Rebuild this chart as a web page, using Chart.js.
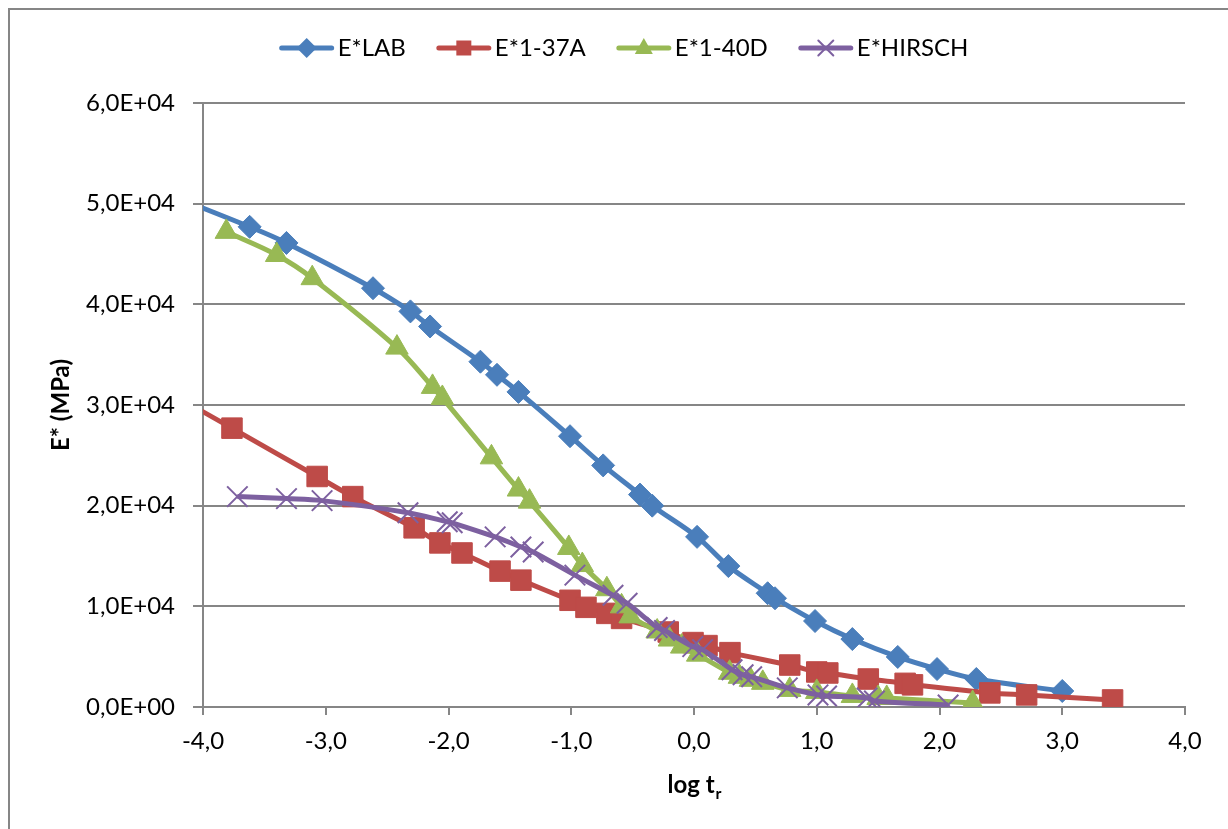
<!DOCTYPE html>
<html>
<head>
<meta charset="utf-8">
<script src="https://cdn.jsdelivr.net/npm/chart.js@4.4.1/dist/chart.umd.min.js"></script>
<style>
  html, body { margin: 0; padding: 0; background: #fff; }
  #wrap { position: relative; width: 1228px; height: 829px; }
</style>
</head>
<body>
<div id="wrap"><canvas id="chart" width="1228" height="829"></canvas></div>
<script>
// series (x = log tr, y = E* in MPa)
const seriesNames = ['E*LAB', 'E*1-37A', 'E*1-40D', 'E*HIRSCH'];

const labX = [-4.3, -3.62, -3.32, -2.615, -2.31, -2.15, -1.74, -1.605, -1.43, -1.01, -0.74, -0.44, -0.34, 0.025, 0.28, 0.60, 0.66, 0.986, 1.29, 1.66, 1.98, 2.30, 3.0];
const labE = [51000, 47700, 46100, 41600, 39300, 37800, 34300, 33000, 31300, 26900, 24000, 21100, 20000, 16900, 14000, 11300, 10800, 8540, 6750, 4970, 3770, 2780, 1590];

const a37X = [-4.3, -3.764, -3.07, -2.78, -2.28, -2.07, -1.89, -1.58, -1.41, -1.01, -0.88, -0.71, -0.59, -0.21, -0.008, 0.106, 0.293, 0.78, 1.0, 1.09, 1.42, 1.72, 1.78, 2.41, 2.71, 3.41];
const a37E = [31400, 27700, 22900, 20900, 17800, 16300, 15300, 13500, 12600, 10600, 9900, 9300, 8800, 7450, 6400, 6100, 5400, 4170, 3480, 3380, 2780, 2350, 2200, 1400, 1200, 700];

const d40X = [-3.81, -3.40, -3.11, -2.42, -2.13, -2.05, -1.65, -1.43, -1.34, -1.02, -0.91, -0.71, -0.59, -0.52, -0.30, -0.20, -0.10, 0.03, 0.29, 0.37, 0.46, 0.56, 0.78, 1.00, 1.29, 1.50, 1.57, 2.27];
const d40E = [47200, 44900, 42600, 35700, 31800, 30700, 24800, 21600, 20400, 15800, 14100, 11700, 10000, 9000, 7500, 6700, 6000, 5200, 3400, 3000, 2700, 2400, 1700, 1500, 1100, 900, 900, 400];

const hirX = [-3.72, -3.32, -3.03, -2.33, -2.01, -1.97, -1.62, -1.41, -1.31, -0.97, -0.66, -0.545, -0.30, -0.24, -0.01, 0.07, 0.31, 0.40, 0.47, 0.76, 1.01, 1.08, 1.41, 1.47, 2.07];
const hirE = [20900, 20700, 20500, 19300, 18400, 18300, 16900, 15900, 15400, 13100, 11100, 10300, 7900, 7600, 6000, 5700, 3700, 3200, 3000, 1900, 1200, 1100, 900, 600, 200];

const xTickLabels = ['-4,0', '-3,0', '-2,0', '-1,0', '0,0', '1,0', '2,0', '3,0', '4,0'];
const yTickLabels = ['0,0E+00', '1,0E+04', '2,0E+04', '3,0E+04', '4,0E+04', '5,0E+04', '6,0E+04'];

const colors = ['#4a7ebb', '#be4b48', '#98b954', '#7d60a0'];
const axisGray = '#868686';
const FONT = 'Lato';

const toPoints = (xs, ys) => xs.map((x, i) => ({ x: x, y: ys[i] }));

function drawMarker(ctx, kind, x, y, s, color) {
  ctx.save();
  ctx.fillStyle = color;
  ctx.strokeStyle = color;
  ctx.beginPath();
  if (kind === 'diamond') {
    ctx.moveTo(x, y - s); ctx.lineTo(x + s, y); ctx.lineTo(x, y + s); ctx.lineTo(x - s, y);
    ctx.closePath(); ctx.fill();
  } else if (kind === 'square') {
    ctx.rect(x - s * 0.75, y - s * 0.75, s * 1.5, s * 1.5); ctx.fill();
  } else if (kind === 'triangle') {
    ctx.moveTo(x, y - s); ctx.lineTo(x + s * 0.9, y + s * 0.6); ctx.lineTo(x - s * 0.9, y + s * 0.6);
    ctx.closePath(); ctx.fill();
  } else {
    ctx.lineWidth = 2;
    ctx.moveTo(x - s * 0.75, y - s * 0.75); ctx.lineTo(x + s * 0.75, y + s * 0.75);
    ctx.moveTo(x + s * 0.75, y - s * 0.75); ctx.lineTo(x - s * 0.75, y + s * 0.75);
    ctx.stroke();
  }
  ctx.restore();
}

const decorations = {
  id: 'decorations',
  beforeDraw(chart) {
    const ctx = chart.ctx;
    ctx.save();
    ctx.strokeStyle = axisGray;
    ctx.lineWidth = 2;
    ctx.beginPath();
    ctx.moveTo(9, 829); ctx.lineTo(9, 9); ctx.lineTo(1228, 9);
    ctx.stroke();
    ctx.restore();
  },
  afterDraw(chart) {
    const ctx = chart.ctx;
    const area = chart.chartArea;
    ctx.save();
    ctx.fillStyle = '#000';

    // y title
    ctx.font = 'bold 24px ' + FONT;
    ctx.textAlign = 'center';
    ctx.textBaseline = 'middle';
    ctx.save();
    ctx.translate(61, (area.top + area.bottom) / 2);
    ctx.rotate(-Math.PI / 2);
    ctx.fillText('E* (MPa)', 0, 0);
    ctx.restore();

    // x title with subscript r
    const main = 'log t';
    ctx.font = 'bold 24px ' + FONT;
    const wMain = ctx.measureText(main).width;
    ctx.font = 'bold 16px ' + FONT;
    const wSub = ctx.measureText('r').width;
    let tx = (area.left + area.right) / 2 - (wMain + wSub) / 2;
    ctx.textAlign = 'left';
    ctx.textBaseline = 'alphabetic';
    ctx.font = 'bold 24px ' + FONT;
    ctx.fillText(main, tx, 793);
    ctx.font = 'bold 16px ' + FONT;
    ctx.fillText('r', tx + wMain + 1, 799);

    // legend: line + marker, then the name
    const kinds = ['diamond', 'square', 'triangle', 'cross'];
    const lineLen = 54, textGap = 4, itemGap = 31, ly = 48;
    ctx.font = '24px ' + FONT;
    const widths = seriesNames.map(n => ctx.measureText(n).width);
    const total = widths.reduce((a, w) => a + lineLen + textGap + w, 0) + itemGap * (seriesNames.length - 1);
    let lx = 624 - total / 2;
    seriesNames.forEach((name, i) => {
      ctx.strokeStyle = colors[i];
      ctx.lineWidth = 5;
      ctx.lineCap = 'round';
      ctx.beginPath();
      ctx.moveTo(lx + 2, ly); ctx.lineTo(lx + lineLen - 2, ly);
      ctx.stroke();
      drawMarker(ctx, kinds[i], lx + lineLen / 2, ly, 10, colors[i]);
      ctx.fillStyle = '#000';
      ctx.textBaseline = 'middle';
      ctx.fillText(name, lx + lineLen + textGap, ly);
      lx += lineLen + textGap + widths[i] + itemGap;
    });
    ctx.restore();
  }
};

const common = { borderWidth: 5, showLine: true, tension: 0.35, fill: false };

new Chart(document.getElementById('chart'), {
  type: 'scatter',
  data: {
    datasets: [
      Object.assign({}, common, {
        label: seriesNames[0], data: toPoints(labX, labE), order: 4,
        borderColor: colors[0], backgroundColor: colors[0],
        pointStyle: 'rectRot', pointRadius: 11.5, pointBorderWidth: 1
      }),
      Object.assign({}, common, {
        label: seriesNames[1], data: toPoints(a37X, a37E), order: 3,
        borderColor: colors[1], backgroundColor: colors[1],
        pointStyle: 'rect', pointRadius: 14.5, pointBorderWidth: 1
      }),
      Object.assign({}, common, {
        label: seriesNames[2], data: toPoints(d40X, d40E), order: 2,
        borderColor: colors[2], backgroundColor: colors[2],
        pointStyle: 'triangle', pointRadius: 13, pointBorderWidth: 1
      }),
      Object.assign({}, common, {
        label: seriesNames[3], data: toPoints(hirX, hirE), order: 1,
        borderColor: colors[3], backgroundColor: colors[3],
        pointStyle: 'crossRot', pointRadius: 14.5, pointBorderWidth: 2
      })
    ]
  },
  options: {
    responsive: false,
    animation: false,
    devicePixelRatio: 1,
    layout: { padding: { top: 103, right: 43, bottom: 0, left: 0 } },
    plugins: {
      legend: { display: false },
      tooltip: { enabled: false }
    },
    scales: {
      x: {
        type: 'linear',
        min: -4, max: 4,
        afterFit: (s) => { s.height = 122; },
        ticks: {
          stepSize: 1,
          padding: 12,
          color: '#000',
          font: { family: FONT, size: 24 },
          callback: (v) => xTickLabels[Math.round(v) + 4]
        },
        grid: { drawOnChartArea: false, color: axisGray, lineWidth: 2, tickLength: 8 },
        border: { color: axisGray, width: 2 }
      },
      y: {
        min: 0, max: 60000,
        afterFit: (s) => { s.width = 203; },
        ticks: {
          stepSize: 10000,
          padding: 18,
          color: '#000',
          font: { family: FONT, size: 24 },
          callback: (v) => yTickLabels[Math.round(v / 10000)]
        },
        grid: { color: axisGray, lineWidth: 2, tickLength: 10 },
        border: { color: axisGray, width: 2 }
      }
    }
  },
  plugins: [decorations]
});
</script>
</body>
</html>
